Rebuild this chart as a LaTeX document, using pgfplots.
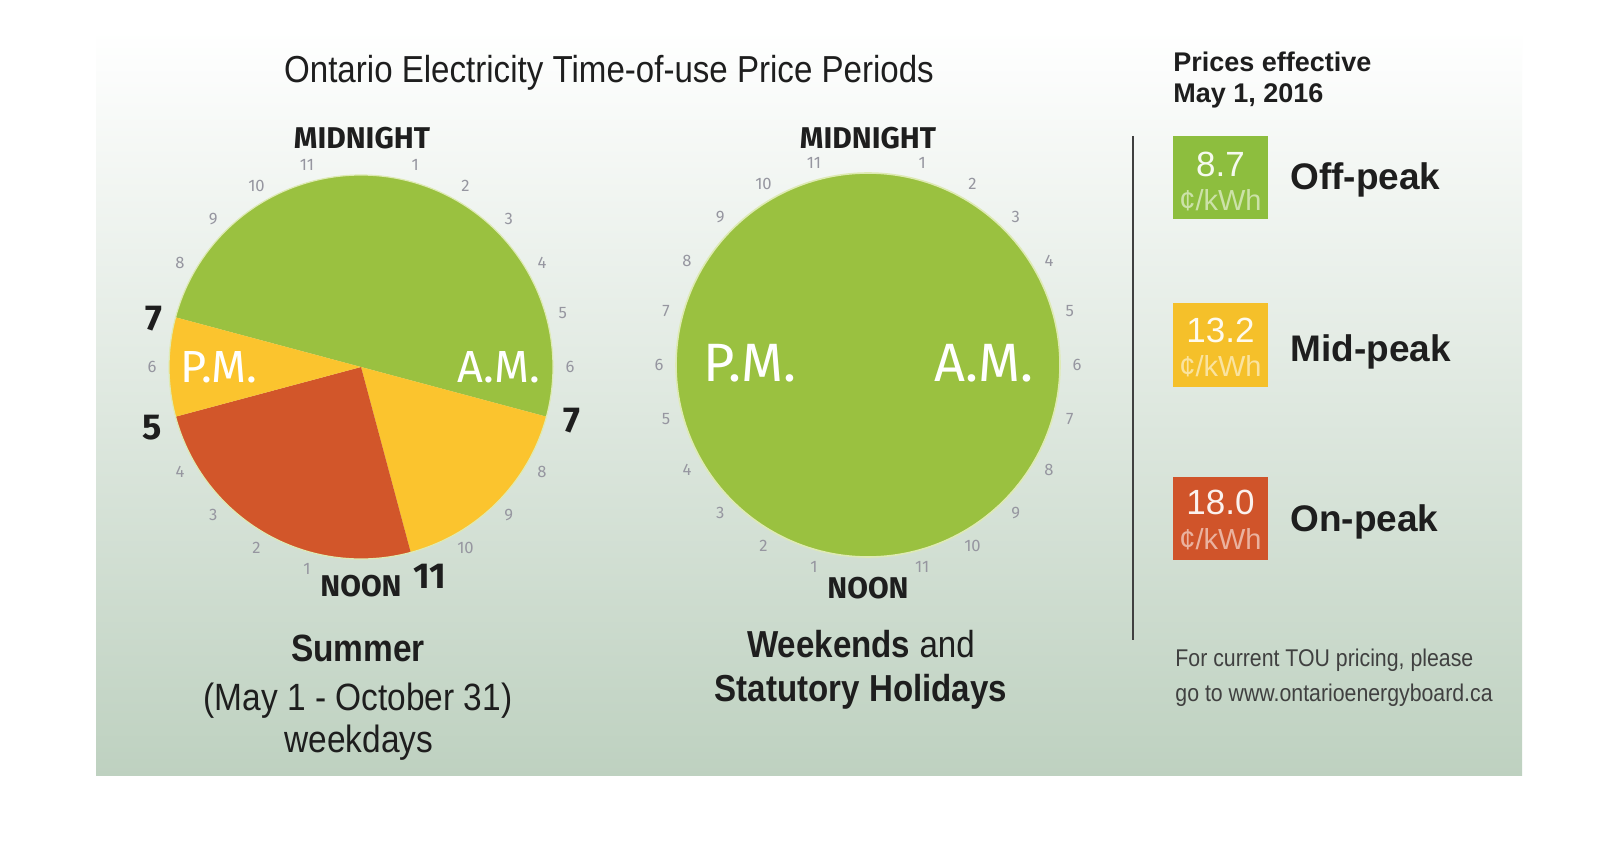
\documentclass[border=0pt]{standalone}
\usepackage{pgfplots}
\pgfplotsset{compat=1.18}
\usepackage{fontspec}
\setmainfont{Liberation Sans}
\newfontfamily\cond[FakeStretch=0.88]{Liberation Sans}
\newfontfamily\din{Fira Sans}
\definecolor{offg}{RGB}{154,193,64}
\definecolor{midy}{RGB}{251,196,46}
\definecolor{onr}{RGB}{210,86,42}
\definecolor{boxg}{RGB}{141,190,62}
\definecolor{boxy}{RGB}{245,192,42}
\definecolor{boxr}{RGB}{208,84,42}
\definecolor{bgmid}{RGB}{234,240,234}
\definecolor{bgbot}{RGB}{190,209,192}
\definecolor{numg}{RGB}{150,150,160}
\definecolor{txt}{RGB}{30,30,30}
\definecolor{rim}{RGB}{222,234,180}
\newcommand\fs[1]{\fontsize{#1pt}{#1pt}\selectfont}

\begin{document}
\begin{tikzpicture}
% canvas: 1 px = 0.5pt, picture 1598 x 866 px
\path[use as bounding box, fill=white] (0pt,0pt) rectangle (799pt,433pt);
\shade[top color=white, middle color=bgmid, bottom color=bgbot] (48pt,45pt) rectangle (761pt,418pt);

\begin{axis}[at={(0pt,0pt)}, anchor=south west, scale only axis,
  width=799pt, height=433pt, xmin=0, xmax=1598, ymin=0, ymax=866,
  y dir=reverse, hide axis, clip=false]
% Summer weekdays clock: centre (361,367), radius 192; hours clockwise from midnight
\addplot[draw=none, fill=offg, domain=19:31, samples=120] ({361+192*sin(15*x)},{367-192*cos(15*x)}) -- (axis cs:361,367) -- cycle;
\addplot[draw=none, fill=midy, domain=7:11, samples=60] ({361+192*sin(15*x)},{367-192*cos(15*x)}) -- (axis cs:361,367) -- cycle;
\addplot[draw=none, fill=onr, domain=11:17, samples=80] ({361+192*sin(15*x)},{367-192*cos(15*x)}) -- (axis cs:361,367) -- cycle;
\addplot[draw=none, fill=midy, domain=17:19, samples=40] ({361+192*sin(15*x)},{367-192*cos(15*x)}) -- (axis cs:361,367) -- cycle;
\addplot[draw=rim, line width=0.6pt, domain=0:24, samples=240] ({361+192*sin(15*x)},{367-192*cos(15*x)});
% Weekends clock: off-peak all day
\addplot[draw=rim, line width=0.8pt, fill=offg, domain=0:24, samples=240] ({868+192*sin(15*x)},{365-192*cos(15*x)}) -- cycle;
\end{axis}

\begin{scope}[x=0.5pt, y=-0.5pt, yshift=433pt]
% title
\node[font=\cond\fs{18.8}, text=txt, anchor=base, inner sep=0] at (609,83) {Ontario Electricity Time-of-use Price Periods};

% small hour numbers
\foreach \h in {1,2,3,4,5,6,8,9,10} {
  \node[font=\din\fs{8.3}, text=numg, inner sep=0] at ({361+209*sin(15*\h)},{367-209*cos(15*\h)}) {\h};
}
\foreach \h in {1,2,3,4,6,8,9,10,11} {
  \node[font=\din\fs{8.3}, text=numg, inner sep=0] at ({361+209*sin(15*(\h+12))},{367-209*cos(15*(\h+12))}) {\h};
}
\foreach \h in {1,...,11} {
  \node[font=\din\fs{8.3}, text=numg, inner sep=0] at ({868+209*sin(15*\h)},{365-209*cos(15*\h)}) {\h};
  \node[font=\din\fs{8.3}, text=numg, inner sep=0] at ({868+209*sin(15*(\h+12))},{365-209*cos(15*(\h+12))}) {\h};
}

% clock labels
\node[font=\din\bfseries\fs{15}, text=txt, anchor=base, inner sep=0] at (362,149) {MIDNIGHT};
\node[font=\din\bfseries\fs{15}, text=txt, inner sep=0] at (361,586) {NOON};
\node[font=\din\bfseries\fs{15}, text=txt, anchor=base, inner sep=0] at (868,149) {MIDNIGHT};
\node[font=\din\bfseries\fs{15}, text=txt, inner sep=0] at (868,588) {NOON};
\node[font=\din\bfseries\fs{18}, text=txt, inner sep=0] at (154,319) {7};
\node[font=\din\bfseries\fs{18}, text=txt, inner sep=0] at (152,428) {5};
\node[font=\din\bfseries\fs{18}, text=txt, inner sep=0] at (572,421) {7};
\node[font=\din\bfseries\fs{18}, text=txt, inner sep=0] at (430,576) {11};
\node[font=\din\fs{22.5}, text=white, inner sep=0] at (219,367) {P.M.};
\node[font=\din\fs{22.5}, text=white, inner sep=0] at (499,367) {A.M.};
\node[font=\din\fs{27}, text=white, inner sep=0] at (750,363) {P.M.};
\node[font=\din\fs{27}, text=white, inner sep=0] at (984,363) {A.M.};

% captions under clocks
\node[font=\cond\bfseries\fs{19}, text=txt, anchor=base, inner sep=0] at (358,662) {Summer};
\node[font=\cond\fs{19}, text=txt, anchor=base, inner sep=0] at (358,711) {(May 1 - October 31)};
\node[font=\cond\fs{19}, text=txt, anchor=base, inner sep=0] at (359,753) {weekdays};
\node[font=\cond\fs{18.8}, text=txt, anchor=base, inner sep=0] at (861,658) {\textbf{Weekends} and};
\node[font=\cond\bfseries\fs{18.8}, text=txt, anchor=base, inner sep=0] at (861,702) {Statutory Holidays};

% divider
\draw[color=black!75, line width=1pt] (1133,136) -- (1133,640);

% legend
\node[font=\bfseries\fs{13.5}, text=txt, anchor=base west, inner sep=0] at (1173,72) {Prices effective};
\node[font=\bfseries\fs{13.5}, text=txt, anchor=base west, inner sep=0] at (1173,103) {May 1, 2016};

\fill[boxg] (1173,136) rectangle (1268,219);
\fill[boxy] (1173,303) rectangle (1268,387);
\fill[boxr] (1173,477) rectangle (1268,560);

\node[font=\fs{17.5}, text=white!92!boxg, anchor=base, inner sep=0] at (1220.5,177) {8.7};
\node[font=\fs{14.5}, text=white!55!boxg, anchor=base, inner sep=0] at (1220.5,211) {¢/kWh};
\node[font=\fs{17.5}, text=white!92!boxy, anchor=base, inner sep=0] at (1220.5,343) {13.2};
\node[font=\fs{14.5}, text=white!55!boxy, anchor=base, inner sep=0] at (1220.5,377) {¢/kWh};
\node[font=\fs{17.5}, text=white!92!boxr, anchor=base, inner sep=0] at (1220.5,515) {18.0};
\node[font=\fs{14.5}, text=white!55!boxr, anchor=base, inner sep=0] at (1220.5,550) {¢/kWh};

\node[font=\bfseries\fs{18.5}, text=txt, anchor=base west, inner sep=0] at (1290,190) {Off-peak};
\node[font=\bfseries\fs{18.5}, text=txt, anchor=base west, inner sep=0] at (1290,362) {Mid-peak};
\node[font=\bfseries\fs{18.5}, text=txt, anchor=base west, inner sep=0] at (1290,532) {On-peak};

\node[font=\cond\fs{12.1}, text=black!75, anchor=base west, inner sep=0] at (1175,667) {For current TOU pricing, please};
\node[font=\cond\fs{12.1}, text=black!75, anchor=base west, inner sep=0] at (1175,702) {go to www.ontarioenergyboard.ca};
\end{scope}
\end{tikzpicture}
\end{document}
